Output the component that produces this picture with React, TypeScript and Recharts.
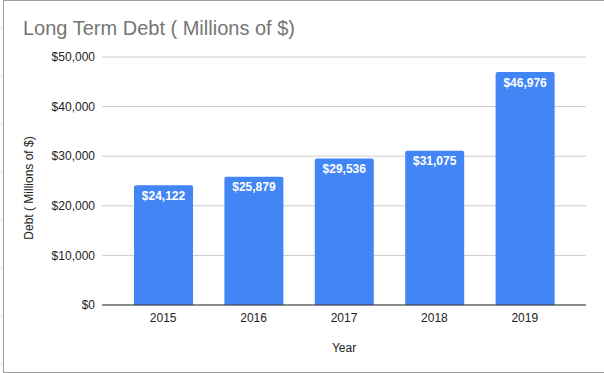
import { BarChart, Bar, XAxis, YAxis, CartesianGrid, LabelList, Label } from 'recharts';

const years = ['2015', '2016', '2017', '2018', '2019'];
const debt = [24122, 25879, 29536, 31075, 46976];
const yTicks = [0, 10000, 20000, 30000, 40000, 50000];

const data = years.map((year, i) => ({ year, debt: debt[i] }));

const money = (v: number) => '$' + v.toLocaleString('en-US');
const font = 'Arial, "Liberation Sans", sans-serif';

export default function App() {
  return (
    <div style={{ position: 'absolute', left: 0, top: 0, width: 604, height: 373, background: '#fff', fontFamily: font }}>
      {/* sheet gridline stubs on the far left */}
      <div
        style={{
          position: 'absolute', left: 0, top: 0, width: 3, height: 373,
          background: 'repeating-linear-gradient(to bottom, transparent 0px, transparent 27px, #e2e2e2 27px, #e2e2e2 28px, transparent 28px, transparent 48px)',
        }}
      />
      <div
        style={{
          position: 'absolute', left: 3, top: 0, width: 604, height: 371,
          borderLeft: '1px solid #9e9e9e', borderTop: '1px solid #9e9e9e', borderBottom: '1px solid #9e9e9e',
          pointerEvents: 'none',
        }}
      />
      <div style={{ position: 'absolute', left: 23, top: 17, fontSize: 20, color: '#757575', whiteSpace: 'nowrap' }}>
        Long Term Debt ( Millions of $)
      </div>
      <BarChart
        width={604}
        height={373}
        data={data}
        margin={{ top: 57, right: 18, bottom: 0, left: 0 }}
        style={{ position: 'absolute', left: 0, top: 0 }}
      >
        <CartesianGrid stroke="#cccccc" vertical={false} />
        <XAxis
          dataKey="year"
          height={68}
          tickLine={false}
          axisLine={{ stroke: '#333333' }}
          padding={{ left: 16, right: 16 }}
          tick={{ fill: '#222222', fontSize: 12, fontFamily: font }}
          tickMargin={2}
        >
          <Label value="Year" position="insideBottom" offset={21} style={{ fill: '#222222', fontSize: 12, fontFamily: font }} />
        </XAxis>
        <YAxis
          width={102}
          domain={[0, 50000]}
          ticks={yTicks}
          tickFormatter={money}
          tickLine={false}
          axisLine={false}
          tickMargin={1}
          tick={{ fill: '#222222', fontSize: 12, fontFamily: font }}
        >
          <Label
            content={() => (
              <text
                x={29}
                y={188}
                transform="rotate(-90, 29, 188)"
                textAnchor="middle"
                dominantBaseline="central"
                fill="#222222"
                fontSize={12}
                fontFamily={font}
              >
                Debt ( Millions of $)
              </text>
            )}
          />
        </YAxis>
        <Bar dataKey="debt" fill="#4285f4" barSize={59} radius={[2, 2, 0, 0]} isAnimationActive={false}>
          <LabelList
            dataKey="debt"
            position="insideTop"
            offset={6}
            formatter={(v: any) => money(Number(v))}
            style={{ fill: '#ffffff', fontSize: 12, fontWeight: 'bold', fontFamily: font }}
          />
        </Bar>
      </BarChart>
    </div>
  );
}
